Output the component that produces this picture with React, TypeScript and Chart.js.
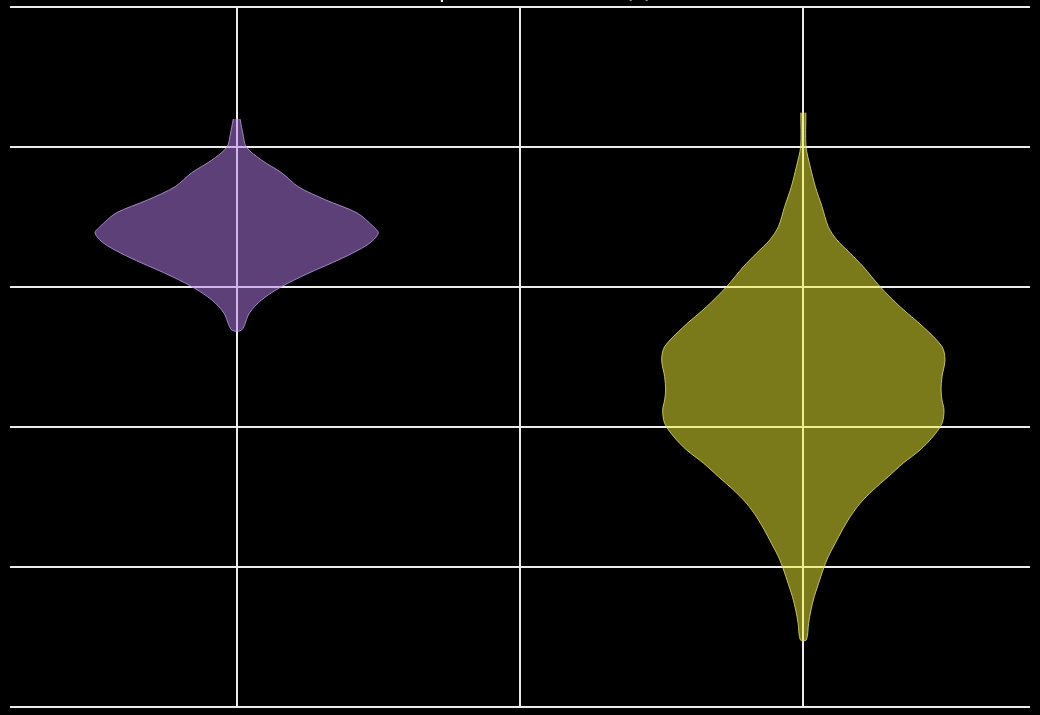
import React, { useEffect, useRef } from "react";
import { Chart, registerables } from "chart.js";

Chart.register(...registerables);

// ---- data ----
const TITLE = "Sample Distribution (s)";
const CATEGORY_CENTERS = [0, 1];
const X_TICKS = [0, 0.5, 1];
const Y_MIN = 0;
const Y_MAX = 5;
const Y_STEP = 1;
const MAX_HALF_WIDTH = 0.25;

// Violin A (purple): value levels (top -> bottom) and relative density (0..1)
const A_LEVELS = [4.2, 4.14, 4.1, 4.0, 3.907, 3.814, 3.716, 3.621, 3.529, 3.431, 3.386, 3.314, 3.243, 3.171, 3.1, 3.002, 2.907, 2.814, 2.693];
const A_DENSITY = [0.024, 0.035, 0.043, 0.068, 0.175, 0.32, 0.435, 0.63, 0.85, 0.965, 1.0, 0.94, 0.82, 0.67, 0.51, 0.315, 0.175, 0.09, 0.035];

// Violin B (olive)
const B_LEVELS = [4.245, 4.002, 3.859, 3.716, 3.574, 3.431, 3.336, 3.241, 3.145, 3.002, 2.859, 2.716, 2.574, 2.479, 2.359, 2.264, 2.193, 2.121, 2.026, 1.931, 1.836, 1.741, 1.645, 1.55, 1.455, 1.359, 1.264, 1.169, 1.074, 0.979, 0.884, 0.788, 0.693, 0.598, 0.479];
const B_DENSITY = [0.018, 0.019, 0.049, 0.085, 0.132, 0.176, 0.237, 0.331, 0.423, 0.542, 0.683, 0.845, 0.979, 1.0, 0.979, 0.972, 0.979, 0.993, 0.979, 0.915, 0.824, 0.704, 0.599, 0.493, 0.401, 0.331, 0.275, 0.225, 0.176, 0.139, 0.108, 0.077, 0.054, 0.037, 0.021];

const VIOLIN_FILLS = ["rgba(188,128,240,0.5)", "rgba(244,244,52,0.5)"];
const VIOLIN_LINES = ["rgba(180,150,215,0.85)", "rgba(215,215,110,0.85)"];

function violinOutline(center: number, levels: number[], density: number[]) {
  const pts: { x: number; y: number }[] = [];
  for (let i = 0; i < levels.length; i++) {
    pts.push({ x: center + density[i] * MAX_HALF_WIDTH, y: levels[i] });
  }
  for (let i = levels.length - 1; i >= 0; i--) {
    pts.push({ x: center - density[i] * MAX_HALF_WIDTH, y: levels[i] });
  }
  return pts;
}

export default function App() {
  const ref = useRef<HTMLCanvasElement | null>(null);

  useEffect(() => {
    if (!ref.current) return;
    document.body.style.background = "#000";
    const chart = new Chart(ref.current, {
      type: "scatter",
      data: {
        datasets: [
          {
            label: "A",
            data: violinOutline(CATEGORY_CENTERS[0], A_LEVELS, A_DENSITY),
            showLine: true,
            fill: "shape",
            backgroundColor: VIOLIN_FILLS[0],
            borderColor: VIOLIN_LINES[0],
            borderWidth: 1,
            pointRadius: 0,
            tension: 0.3,
          },
          {
            label: "B",
            data: violinOutline(CATEGORY_CENTERS[1], B_LEVELS, B_DENSITY),
            showLine: true,
            fill: "shape",
            backgroundColor: VIOLIN_FILLS[1],
            borderColor: VIOLIN_LINES[1],
            borderWidth: 1,
            pointRadius: 0,
            tension: 0.3,
          },
        ] as any,
      },
      options: {
        animation: false,
        responsive: false,
        layout: { padding: { left: 10, right: 10, top: 0, bottom: 23 } },
        plugins: {
          legend: { display: false },
          tooltip: { enabled: false },
          title: {
            display: true,
            text: TITLE,
            color: "#ffffff",
            font: { family: "'Open Sans', sans-serif", size: 25, weight: "normal" as any, lineHeight: 1.2 },
            padding: { top: 10, bottom: 3 },
          },
        },
        scales: {
          x: {
            type: "linear",
            min: -0.4,
            max: 1.4,
            afterBuildTicks: (axis: any) => {
              axis.ticks = X_TICKS.map((v) => ({ value: v }));
            },
            ticks: { display: false },
            grid: { color: "#ebebeb", lineWidth: 2, drawTicks: false },
            border: { display: false },
          },
          y: {
            type: "linear",
            min: Y_MIN,
            max: Y_MAX,
            ticks: { display: false, stepSize: Y_STEP },
            grid: { color: "#ebebeb", lineWidth: 2, drawTicks: false },
            border: { display: false },
          },
        },
      },
    });
    return () => chart.destroy();
  }, []);

  return (
    <div style={{ position: "fixed", left: 0, top: 0, width: 1040, height: 715, overflow: "hidden", background: "#000" }}>
      <canvas ref={ref} width={1040} height={766} style={{ position: "absolute", left: 0, top: -36, width: 1040, height: 766 }} />
    </div>
  );
}
